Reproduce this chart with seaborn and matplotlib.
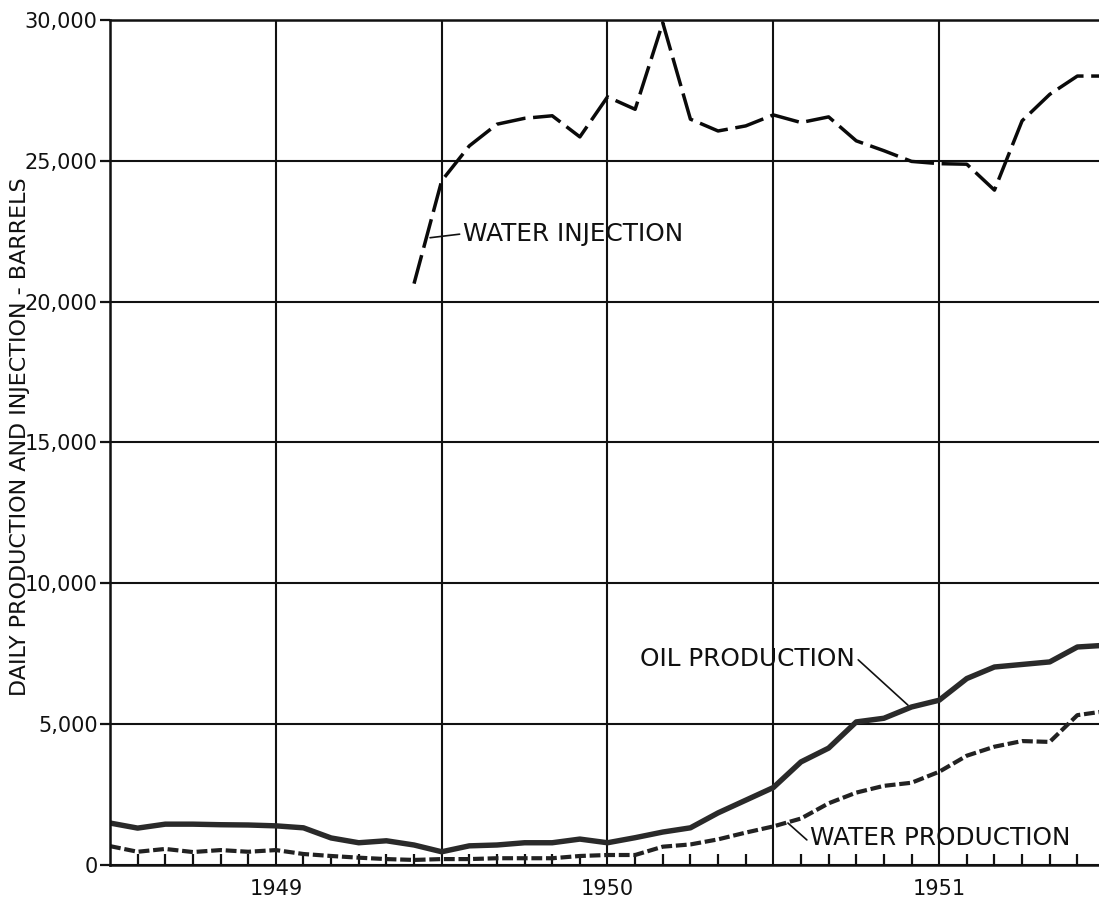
import numpy as np
import pandas as pd
import matplotlib
matplotlib.use("Agg")
import matplotlib.pyplot as plt
from matplotlib.ticker import FixedLocator, FuncFormatter
import seaborn as sns

# Monthly readings, July 1948 through July 1951
months = pd.period_range("1948-07", "1951-07", freq="M")

oil_production = [
    1490, 1310, 1450, 1450, 1430, 1420, 1390, 1320, 960, 790, 860, 710,
    470, 680, 710, 790, 790, 920, 790, 970, 1170, 1320, 1850, 2300,
    2750, 3660, 4150, 5080, 5210, 5610, 5850, 6620, 7030, 7120, 7210, 7740,
    7800,
]

water_production = [
    670, 470, 570, 460, 530, 470, 530, 390, 320, 260, 210, 180,
    210, 210, 240, 240, 240, 320, 355, 355, 650, 730, 910, 1150,
    1370, 1650, 2190, 2570, 2810, 2920, 3310, 3880, 4200, 4400, 4370, 5320,
    5460,
]

# Injection began in June 1949
injection_start = "1949-06"
water_injection = [
    20640, 24290, 25530, 26300, 26510, 26600, 25850, 27270, 26830, 29900,
    26480, 26060, 26240, 26630, 26360, 26560, 25710, 25360, 24980, 24900,
    24880, 23960, 26420, 27360, 28010, 28010,
]

year_labels = [1949, 1950, 1951]

def decimal_year(p):
    return p.year + (p.month - 1) / 12.0

x_all = np.array([decimal_year(p) for p in months])
inj_months = pd.period_range(injection_start, "1951-07", freq="M")
x_inj = np.array([decimal_year(p) for p in inj_months])

df_oil = pd.DataFrame({"year": x_all, "barrels": oil_production})
df_wp = pd.DataFrame({"year": x_all, "barrels": water_production})
df_wi = pd.DataFrame({"year": x_inj, "barrels": water_injection})

sns.set_style("white")
plt.rcParams["font.family"] = ["DejaVu Sans"]

fig = plt.figure(figsize=(10.99, 8.99), dpi=100)
ax = fig.add_axes([110 / 1099, 34 / 899, 995 / 1099, 845 / 899])

ink = "#111111"

sns.lineplot(data=df_wi, x="year", y="barrels", ax=ax, color="#0a0a0a",
             linewidth=2.5, linestyle=(0, (8.5, 2.2)), clip_on=False)
sns.lineplot(data=df_oil, x="year", y="barrels", ax=ax, color="#2a2a2a",
             linewidth=3.9, solid_capstyle="round")
sns.lineplot(data=df_wp, x="year", y="barrels", ax=ax, color="#222222",
             linewidth=3.0, linestyle=(0, (2.6, 0.9)))

ax.set_xlim(1948.5, 1951.5)
ax.set_ylim(0, 30000)

# Half-year grid, monthly inward ticks along the base
half_years = np.arange(1948.5, 1951.51, 0.5)
ax.xaxis.set_major_locator(FixedLocator(half_years))
ax.xaxis.set_minor_locator(FixedLocator(x_all))
ax.xaxis.set_major_formatter(FuncFormatter(
    lambda v, pos: f"{int(round(v))}" if abs(v - round(v)) < 1e-6 and int(round(v)) in year_labels else ""))
ax.tick_params(axis="x", which="major", length=0, pad=10, labelsize=15, labelcolor=ink)
ax.tick_params(axis="x", which="minor", direction="in", length=8, width=1.6, color=ink, bottom=True)

ax.set_yticks(np.arange(0, 30001, 5000))
ax.yaxis.set_major_formatter(FuncFormatter(lambda v, pos: f"{int(v):,}"))
ax.tick_params(axis="y", which="major", direction="out", length=7, width=1.6,
               color=ink, labelsize=15, labelcolor=ink, pad=2, left=True)

ax.grid(True, which="major", color=ink, linewidth=1.5)
ax.set_axisbelow(True)
for side in ["left", "bottom", "top"]:
    ax.spines[side].set_visible(True)
    ax.spines[side].set_color(ink)
    ax.spines[side].set_linewidth(1.8)
ax.spines["right"].set_visible(False)

ax.set_xlabel("")
ax.set_ylabel("")
fig.text(20 / 1099, (899 - 437) / 899, "DAILY PRODUCTION AND INJECTION - BARRELS",
         rotation=90, ha="center", va="center", fontsize=16, color=ink)

leader = dict(arrowstyle="-", color=ink, linewidth=1.2, shrinkA=0, shrinkB=0)

ax.annotate("WATER INJECTION", xy=(1949.465, 22270), xytext=(1949.564, 22410),
            ha="left", va="center", fontsize=17.8, color=ink,
            arrowprops=dict(leader, relpos=(0, 0.5)))
ax.annotate("OIL PRODUCTION", xy=(1950.906, 5674), xytext=(1950.746, 7305),
            ha="right", va="center", fontsize=17.8, color=ink,
            arrowprops=dict(leader, relpos=(1, 0.6)))
ax.annotate("WATER PRODUCTION", xy=(1950.544, 1489), xytext=(1950.611, 957),
            ha="left", va="center", fontsize=17.8, color=ink,
            arrowprops=dict(leader, relpos=(0, 0.3)))

fig.savefig("out.png", dpi=100, facecolor="white")
